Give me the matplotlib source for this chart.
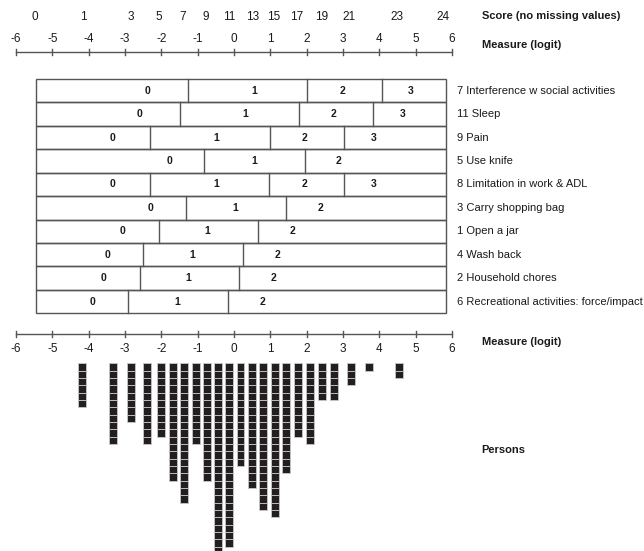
import numpy as np
import matplotlib
matplotlib.use("Agg")
import matplotlib.pyplot as plt
from matplotlib.patches import Rectangle

plt.rcParams['font.family'] = ['Liberation Sans', 'DejaVu Sans']

# Measure axis (logits)
measure_ticks = [-6, -5, -4, -3, -2, -1, 0, 1, 2, 3, 4, 5, 6]

# Raw score scale and where each score sits on the logit axis
scores = [0, 1, 3, 5, 7, 9, 11, 13, 15, 17, 19, 21, 23, 24]
score_pos = [-5.48, -4.16, -2.83, -2.06, -1.40, -0.77, -0.14, 0.50, 1.10, 1.73, 2.42, 3.16, 4.49, 5.74]

# Items (top to bottom), category thresholds and category label positions
items = ["7 Interference w social activities", "11 Sleep", "9 Pain", "5 Use knife",
         "8 Limitation in work & ADL", "3 Carry shopping bag", "1 Open a jar",
         "4 Wash back", "2 Household chores", "6 Recreational activities: force/impact"]
thresholds = [[-1.27, 2.01, 4.07], [-1.50, 1.80, 3.83], [-2.31, 0.99, 3.02], [-0.83, 1.95],
              [-2.31, 0.97, 3.02], [-1.33, 1.43], [-2.07, 0.67], [-2.51, 0.26],
              [-2.60, 0.15], [-2.92, -0.17]]
cat_pos = [[-2.37, 0.55, 3.00, 4.87], [-2.59, 0.30, 2.73, 4.63], [-3.35, -0.48, 1.95, 3.83],
           [-1.78, 0.55, 2.89], [-3.35, -0.50, 1.95, 3.83], [-2.31, 0.03, 2.37],
           [-3.06, -0.73, 1.62], [-3.48, -1.14, 1.19], [-3.59, -1.25, 1.10],
           [-3.89, -1.55, 0.78]]
box_lo, box_hi = -5.44, 5.84

# Person distribution
person_measure = [-4.19, -3.34, -2.83, -2.40, -2.02, -1.68, -1.37, -1.05, -0.75, -0.43, -0.13,
                  0.18, 0.50, 0.81, 1.13, 1.43, 1.75, 2.09, 2.41, 2.76, 3.21, 3.72, 4.54]
person_count = [6, 11, 8, 11, 10, 16, 19, 11, 16, 26, 25, 14, 17, 20, 21, 15, 10, 11, 5, 5, 3, 1, 2]

W, H = 644, 551
px = 36.33          # pixels per logit
x0 = 234.0          # pixel of logit 0
line_c = '#555555'
txt_c = '#1a1a1a'

fig = plt.figure(figsize=(W / 100, H / 100), dpi=100)
ax = fig.add_axes([0, 0, 1, 1])
ax.set_xlim(-x0 / px, (W - x0) / px)
ax.set_ylim(H, 0)
ax.axis('off')
renderer = fig.canvas.get_renderer()


def fit_size(s, width_px, weight, start=10.0):
    # shrink a label so it takes the same width as in the original
    t = fig.text(0, 0, s, fontsize=start, fontweight=weight)
    w = t.get_window_extent(renderer).width
    t.remove()
    return min(start * width_px / w, 10.0)


head_size = fit_size('Score (no missing values)', 138, 'bold')
item_size = fit_size(items[-1], 185, 'normal')


def logit_axis(y, lab_y):
    ax.plot([-6, 6], [y, y], color=line_c, lw=1)
    for t in measure_ticks:
        ax.plot([t, t], [y - 3, y + 3], color=line_c, lw=1)
        ax.text(t, lab_y, str(t), ha='center', va='center', fontsize=8.5, color=txt_c)


# top axis
logit_axis(52, 38.5)
for s, p in zip(scores, score_pos):
    ax.text(p, 17, str(s), ha='center', va='center', fontsize=8.5, color=txt_c)
hx = (481.7 - x0) / px
ax.text(hx, 16, 'Score (no missing values)', ha='left', va='center', fontsize=head_size,
        fontweight='bold', color=txt_c)
ax.text(hx, 45, 'Measure (logit)', ha='left', va='center', fontsize=head_size,
        fontweight='bold', color=txt_c)

# item rows
top, rh = 79.0, 23.43
lx = (456.7 - x0) / px
for i, name in enumerate(items):
    y = top + i * rh
    ax.add_patch(Rectangle((box_lo, y), box_hi - box_lo, rh, fill=False, ec=line_c, lw=1))
    for t in thresholds[i]:
        ax.plot([t, t], [y, y + rh], color=line_c, lw=1)
    for k, p in enumerate(cat_pos[i]):
        ax.text(p, y + rh / 2, str(k), ha='center', va='center', fontsize=7.5,
                fontweight='bold', color=txt_c)
    ax.text(lx, y + rh / 2, name, ha='left', va='center', fontsize=item_size, color=txt_c)

# bottom axis
logit_axis(334, 349)
ax.text(hx, 342, 'Measure (logit)', ha='left', va='center', fontsize=head_size,
        fontweight='bold', color=txt_c)
ax.text(hx, 450, 'Persons', ha='left', va='center', fontsize=head_size,
        fontweight='bold', color=txt_c)

# persons: stacked squares
ptop, pitch = 363.3, 7.33
sq_w = 7.9 / px
pm = np.array(person_measure)
pc = np.array(person_count)
for k in range(pc.max()):
    sel = pc > k
    ax.bar(pm[sel], pitch, width=sq_w, bottom=ptop + k * pitch, color='#231f20',
           edgecolor='#c8c8c8', linewidth=0.6)

fig.savefig('out.png', dpi=100)
